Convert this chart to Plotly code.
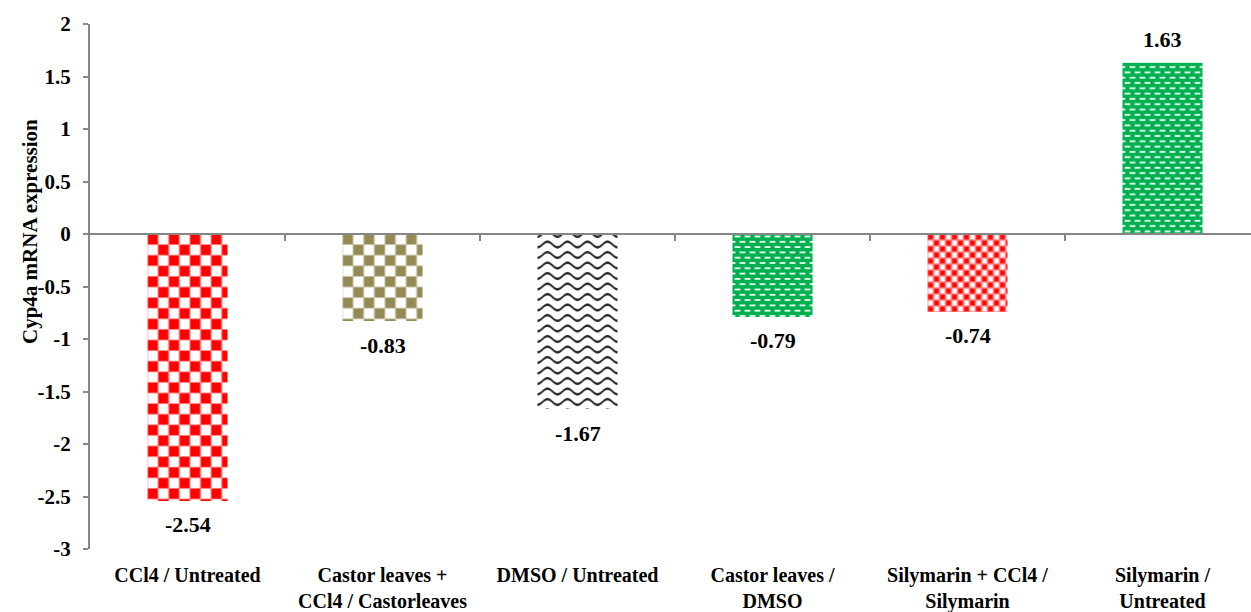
import numpy as np
import plotly.graph_objects as go

# ---- data ----
categories = [
    "CCl4 / Untreated",
    "Castor leaves +<br>CCl4 / Castorleaves",
    "DMSO / Untreated",
    "Castor leaves /<br>DMSO",
    "Silymarin + CCl4 /<br>Silymarin",
    "Silymarin /<br>Untreated",
]
values = [-2.54, -0.83, -1.67, -0.79, -0.74, 1.63]
y_ticks = [2, 1.5, 1, 0.5, 0, -0.5, -1, -1.5, -2, -2.5, -3]
y_title = "Cyp4a mRNA expression"

# ---- layout geometry ----
W, H = 1251, 612
M_L, M_R, M_T, M_B = 90, 0, 24, 63
Y_RANGE = [-3, 2]
CAT_PX = 195.0                       # pixels per category
PLOT_W = W - M_L - M_R
PLOT_H = H - M_T - M_B
X_RANGE = [-0.5, -0.5 + PLOT_W / CAT_PX]
PX_Y = PLOT_H / (Y_RANGE[1] - Y_RANGE[0])   # pixels per y unit
BAR_PX = 80
BAR_W = BAR_PX / CAT_PX

GRID = "#868686"
FONT = "Liberation Serif, Times New Roman, serif"


def clip01(a):
    return np.clip(a, 0.0, 1.0)


# ---- fill textures: coverage of the foreground colour per pixel ----
def checker(u, v, cell, soft):
    fx = np.mod(u, cell)
    fy = np.mod(v, cell)
    d = np.minimum(np.minimum(fx, cell - fx), np.minimum(fy, cell - fy))
    par = (np.floor(u / cell) + np.floor(v / cell)) % 2 == 0
    k = clip01(d / soft) * 0.5
    return np.where(par, 0.5 + k, 0.5 - k)


def waves(u, v, pitch=10.5, period=20.0, amp=2.8, thick=2.0, soft=0.9):
    yc = amp * np.cos(2 * np.pi * u / period)
    r = np.mod(v - yc, pitch)
    d = np.minimum(r, pitch - r) * 0.8
    return clip01((thick / 2 - d) / soft + 0.5)


def dashes(u, v, px=10.0, py=10.6, w=5.5, h=1.8, soft=1.0):
    def rect(cx, cy):
        dx = np.abs(np.mod(u - cx + px / 2, px) - px / 2) - w / 2
        dy = np.abs(np.mod(v - cy + py / 2, py) - py / 2) - h / 2
        return clip01(0.5 - np.maximum(dx, dy) / soft)
    return np.maximum(rect(5.0, 2.5), rect(0.0, 2.5 + py / 2))


styles = [
    dict(bg="#FFFFFF", fg="#FF0000", tex=lambda u, v: checker(u, v, 10.6, 1.0)),
    dict(bg="#FFFFFF", fg="#948A54", tex=lambda u, v: checker(u, v, 10.6, 1.0)),
    dict(bg="#FFFFFF", fg="#2A2A2A", tex=waves),
    dict(bg="#00B050", fg="#F0FFF5", tex=dashes),
    dict(bg="#FFFFFF", fg="#FF0000", tex=lambda u, v: checker(u, v, 6.0, 1.6)),
    dict(bg="#00B050", fg="#F0FFF5", tex=dashes),
]

fig = go.Figure()

# textured bar fills, one pixel per brick, spanning 0 .. value
for i, (val, st) in enumerate(zip(values, styles)):
    nx = BAR_PX
    ny = int(np.ceil(abs(val) * PX_Y - 1e-9))
    xe = np.linspace(i - BAR_W / 2, i + BAR_W / 2, nx + 1)
    depth = np.minimum(np.arange(ny + 1) / PX_Y, abs(val))
    if val < 0:
        ye = -depth[::-1]
    else:
        ye = depth
    uu, vv = np.meshgrid(np.arange(nx) + 0.5, np.arange(ny) + 0.5)
    z = st["tex"](uu, vv)
    if val < 0:
        z = z[::-1]
    fig.add_trace(go.Heatmap(
        x=xe, y=ye, z=z, zmin=0, zmax=1,
        colorscale=[[0, st["bg"]], [1, st["fg"]]],
        showscale=False, hoverinfo="skip", xaxis="x", yaxis="y",
    ))

# the bars themselves (fill provided by the textures beneath)
fig.add_trace(go.Bar(
    x=list(range(len(values))), y=values, width=BAR_W,
    marker=dict(color="rgba(0,0,0,0)", line=dict(width=0)),
    hovertext=[c.replace("<br>", " ") for c in categories],
    hoverinfo="text+y", xaxis="x", yaxis="y",
))

# zero axis carrying the category separators
fig.add_trace(go.Scatter(x=[], y=[], xaxis="x2", yaxis="y", showlegend=False))

# value labels
for i, val in enumerate(values):
    fig.add_annotation(
        x=i, y=val, xref="x", yref="y", text=f"{val:.2f}", showarrow=False,
        yanchor="middle", yshift=-24 if val < 0 else 23,
        font=dict(family=FONT, size=22, color="#000000", weight="bold"),
    )

# y-axis title, centred on the zero level
fig.add_annotation(
    x=(30 - M_L) / PLOT_W, xref="paper", y=0, yref="y", yshift=2,
    text=y_title, textangle=-90, showarrow=False,
    xanchor="center", yanchor="middle",
    font=dict(family=FONT, size=21, color="#000000", weight="bold"),
)

zero_pos = (0 - Y_RANGE[0]) / (Y_RANGE[1] - Y_RANGE[0])

fig.update_layout(
    width=W, height=H,
    margin=dict(l=M_L, r=M_R, t=M_T, b=M_B, pad=0, autoexpand=False),
    paper_bgcolor="#FFFFFF", plot_bgcolor="#FFFFFF",
    showlegend=False, bargap=0,
    font=dict(family=FONT, color="#000000"),
    xaxis=dict(
        range=X_RANGE, tickvals=list(range(len(categories))), ticktext=categories,
        showline=False, showgrid=False, zeroline=False, ticks="",
        ticklabelstandoff=12, automargin=False,
        tickfont=dict(family=FONT, size=20, color="#000000", weight="bold"),
    ),
    xaxis2=dict(
        overlaying="x", anchor="free", position=zero_pos, side="bottom",
        range=X_RANGE, tickvals=[k + 0.5 for k in range(len(categories) - 1)],
        showticklabels=False, showline=True, linecolor=GRID, linewidth=2,
        ticks="outside", ticklen=6, tickwidth=1.5, tickcolor=GRID,
        showgrid=False, zeroline=False, automargin=False,
    ),
    yaxis=dict(
        range=Y_RANGE, tickvals=y_ticks, ticktext=[f"{t:g}" for t in y_ticks],
        showline=True, linecolor=GRID, linewidth=2,
        ticks="outside", ticklen=5, tickwidth=1.5, tickcolor=GRID,
        showgrid=False, zeroline=False, ticklabelstandoff=8, automargin=False,
        tickfont=dict(family=FONT, size=21, color="#000000", weight="bold"),
    ),
)

fig.write_html("out.html")
